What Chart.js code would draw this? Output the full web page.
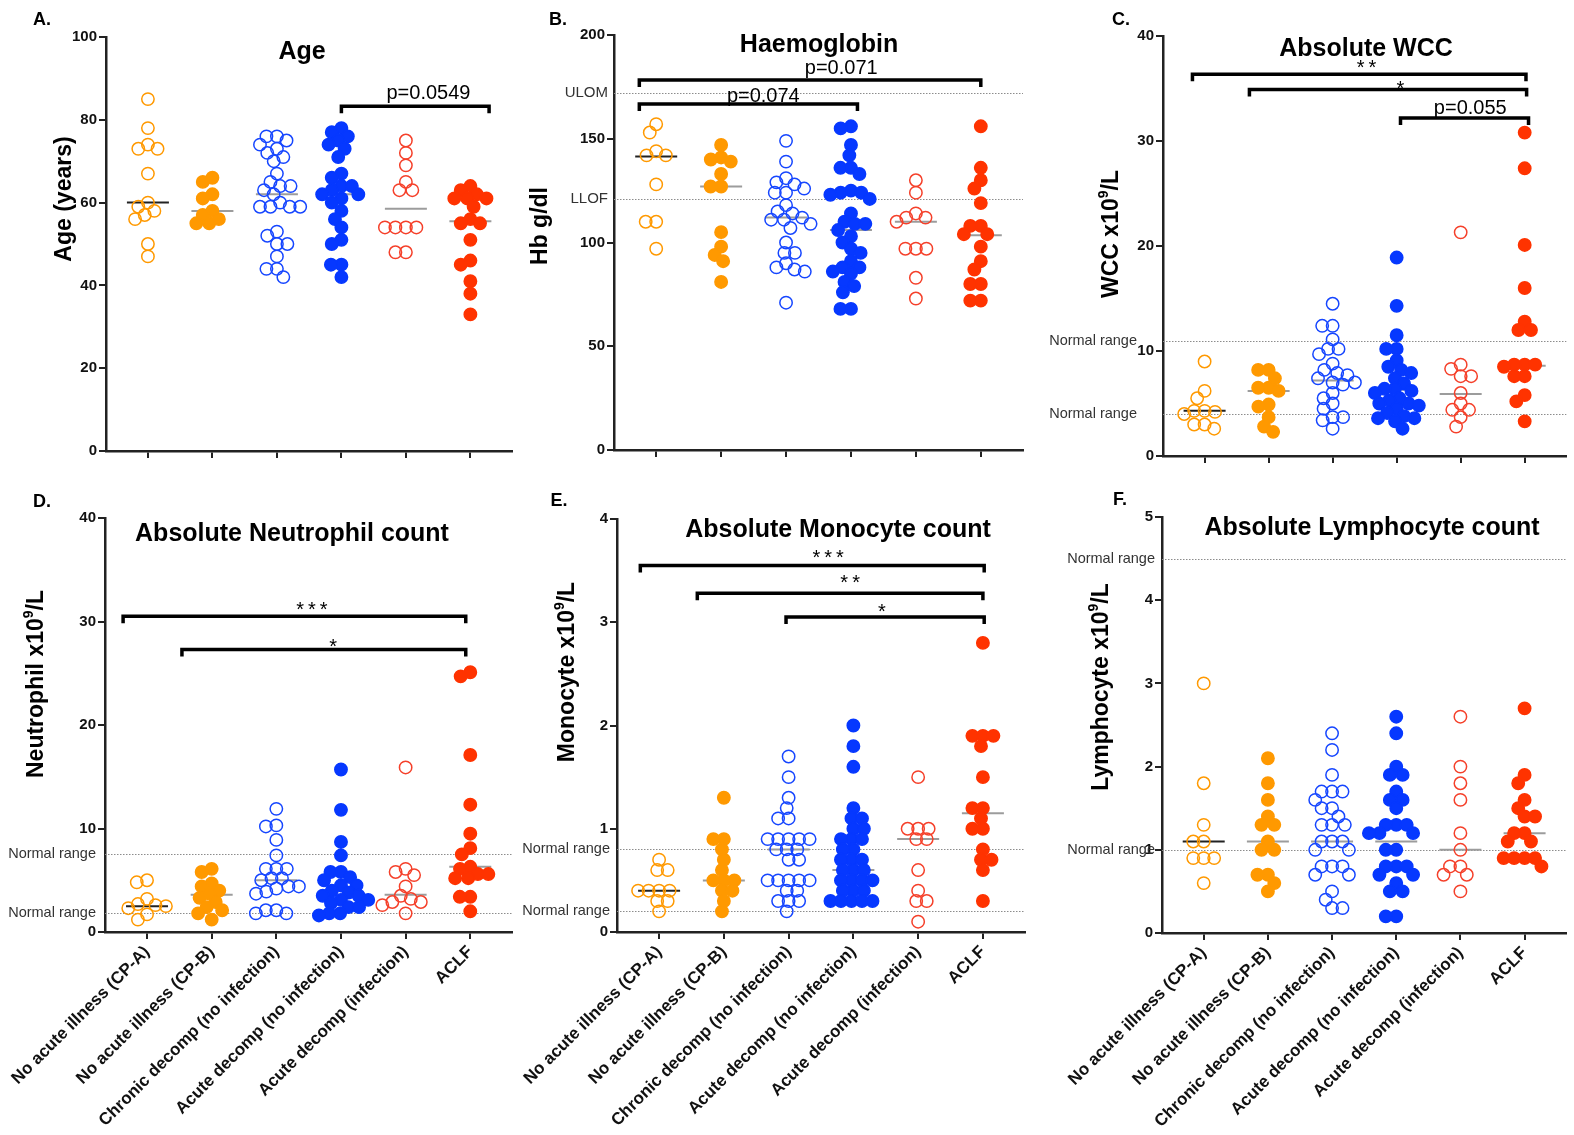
<!DOCTYPE html>
<html>
<head>
<meta charset="utf-8">
<script src="https://cdn.jsdelivr.net/npm/chart.js@4.4.1/dist/chart.umd.min.js"></script>
<style>
body { margin: 0; background: #fff; width: 1574px; height: 1135px; position: relative; overflow: hidden; font-family: "Liberation Sans", Arial, sans-serif; }
canvas { position: absolute; }
.txt { position: absolute; font-weight: bold; color: #000; white-space: nowrap; line-height: 1; transform: translate(-50%, -50%); }
.letter { font-size: 18px; }
.title { font-size: 25px; }
</style>
</head>
<body>
<script>
// groups, shared by all six panels
const categories = ['No acute illness (CP-A)', 'No acute illness (CP-B)', 'Chronic decomp (no infection)',
    'Acute decomp (no infection)', 'Acute decomp (infection)', 'ACLF'];

// values per group
const ageData = [
    [85, 78, 74, 73, 73, 67, 60, 59, 58, 57, 56, 50, 47],
    [66, 65, 62, 61, 58, 57, 56, 55, 55],
    [76, 76, 75, 74, 73, 72, 71, 70, 67, 65, 64, 64, 63, 62, 60, 59, 59, 59, 59, 53, 52, 50, 50, 47, 44, 44, 42],
    [78, 77, 76, 75, 74, 73, 71, 67, 66, 64, 64, 63, 62, 62, 61, 60, 58, 56, 54, 51, 50, 45, 45, 42],
    [75, 72, 69, 65, 63, 63, 54, 54, 54, 54, 48, 48],
    [64, 63, 62, 61, 61, 61, 59, 56, 55, 55, 51, 46, 45, 41, 38, 33]
];
const ageMedians = [60, 58, 62, 62, 58.5, 55.5];

const hbData = [
    [157, 153, 144, 142, 142, 128, 110, 110, 97],
    [147, 141, 140, 139, 133, 127, 127, 105, 98, 94, 91, 81],
    [149, 139, 131, 129, 128, 126, 124, 124, 118, 115, 114, 112, 111, 111, 109, 107, 100, 95, 95, 90, 88, 87, 86, 71],
    [156, 155, 147, 142, 136, 136, 133, 125, 124, 124, 123, 121, 114, 110, 109, 109, 106, 103, 100, 97, 95, 91, 88, 88, 86, 85, 81, 79, 76, 68, 68],
    [130, 124, 114, 112, 112, 110, 97, 97, 97, 83, 73],
    [156, 136, 130, 126, 119, 108, 108, 104, 104, 98, 91, 87, 80, 80, 72, 72]
];
const hbMedians = [141.5, 127, 112, 106, 110, 103.5];
const hbRefs = [172, 121];
const hbRefLabels = ['ULOM', 'LLOF'];

const wccData = [
    [9.0, 6.2, 5.5, 4.3, 4.3, 4.2, 4.0, 3.0, 3.0, 2.6],
    [8.2, 8.2, 7.4, 6.5, 6.5, 6.2, 4.9, 4.7, 3.7, 2.8, 2.3],
    [14.5, 12.4, 12.4, 11.1, 10.2, 10.2, 9.7, 8.8, 8.2, 7.9, 7.7, 7.4, 7.0, 7.0, 6.8, 6.0, 5.5, 5.0, 4.5, 3.7, 3.7, 3.4, 2.6],
    [18.9, 14.3, 11.5, 10.2, 10.2, 9.1, 8.5, 8.2, 7.9, 7.4, 6.9, 6.4, 6.4, 6.2, 6.0, 5.5, 5.3, 5.0, 5.0, 4.8, 4.5, 4.1, 3.8, 3.6, 3.6, 3.3, 2.6],
    [21.3, 8.7, 8.3, 7.6, 7.6, 6.0, 5.0, 4.4, 4.4, 3.7, 2.8],
    [30.8, 27.4, 20.1, 16.0, 12.8, 12.0, 12.0, 8.7, 8.7, 8.7, 8.5, 7.6, 7.6, 5.8, 5.2, 3.3]
];
const wccMedians = [4.3, 6.2, 7.2, 6.3, 5.9, 8.6];
const wccRefs = [11, 4];

const neutData = [
    [5.0, 4.8, 3.2, 2.7, 2.6, 2.5, 2.3, 1.7, 1.2],
    [6.1, 5.8, 4.7, 4.4, 4.0, 3.7, 3.3, 2.9, 2.4, 2.1, 1.8, 1.2],
    [11.9, 10.3, 10.2, 8.9, 7.4, 6.1, 6.1, 6.1, 5.2, 5.2, 5.0, 4.4, 4.4, 4.2, 3.9, 3.7, 2.1, 2.1, 1.8, 1.8],
    [15.7, 11.8, 8.7, 7.4, 5.8, 5.8, 5.3, 5.0, 4.5, 4.5, 4.0, 3.8, 3.5, 3.5, 3.1, 3.1, 2.8, 2.4, 2.4, 1.8, 1.8, 1.6],
    [15.9, 6.1, 5.8, 5.5, 4.4, 3.5, 3.2, 2.9, 2.9, 2.6, 1.8],
    [25.1, 24.7, 17.1, 12.3, 9.5, 8.1, 7.5, 6.3, 6.1, 5.6, 5.6, 5.2, 5.2, 3.4, 3.4, 2.0]
];
const neutMedians = [2.5, 3.6, 5.0, 4.0, 3.6, 6.3];
const neutRefs = [7.5, 1.8];

const monoData = [
    [0.7, 0.6, 0.6, 0.4, 0.4, 0.4, 0.4, 0.3, 0.3, 0.2],
    [1.3, 0.9, 0.9, 0.8, 0.7, 0.6, 0.5, 0.5, 0.5, 0.4, 0.4, 0.3, 0.2],
    [1.7, 1.5, 1.3, 1.2, 1.1, 1.1, 0.9, 0.9, 0.9, 0.9, 0.9, 0.8, 0.8, 0.8, 0.7, 0.7, 0.5, 0.5, 0.5, 0.5, 0.5, 0.4, 0.4, 0.3, 0.3, 0.3, 0.2],
    [2.0, 1.8, 1.6, 1.2, 1.1, 1.1, 1.0, 1.0, 0.9, 0.9, 0.9, 0.8, 0.8, 0.7, 0.7, 0.7, 0.6, 0.6, 0.6, 0.5, 0.5, 0.5, 0.5, 0.4, 0.4, 0.4, 0.3, 0.3, 0.3, 0.3, 0.3],
    [1.5, 1.0, 1.0, 1.0, 0.9, 0.9, 0.6, 0.4, 0.3, 0.3, 0.1],
    [2.8, 1.9, 1.9, 1.9, 1.8, 1.5, 1.2, 1.2, 1.1, 1.0, 1.0, 0.8, 0.7, 0.7, 0.6, 0.3]
];
const monoMedians = [0.4, 0.5, 0.8, 0.6, 0.9, 1.15];
const monoRefs = [0.8, 0.2];

const lymphData = [
    [3.0, 1.8, 1.3, 1.1, 1.1, 0.9, 0.9, 0.9, 0.6],
    [2.1, 1.8, 1.6, 1.4, 1.3, 1.3, 1.1, 1.0, 1.0, 0.7, 0.7, 0.6, 0.5],
    [2.4, 2.2, 1.9, 1.7, 1.7, 1.7, 1.6, 1.5, 1.5, 1.4, 1.3, 1.3, 1.3, 1.1, 1.1, 1.1, 1.0, 1.0, 0.8, 0.8, 0.8, 0.7, 0.7, 0.5, 0.4, 0.3, 0.3],
    [2.6, 2.4, 2.0, 1.9, 1.9, 1.7, 1.6, 1.6, 1.5, 1.3, 1.3, 1.3, 1.2, 1.2, 1.2, 1.0, 1.0, 0.8, 0.8, 0.8, 0.7, 0.7, 0.6, 0.5, 0.5, 0.2, 0.2],
    [2.6, 2.0, 1.8, 1.6, 1.2, 1.0, 0.8, 0.8, 0.7, 0.7, 0.5],
    [2.7, 1.9, 1.8, 1.6, 1.5, 1.4, 1.4, 1.2, 1.2, 1.1, 1.1, 0.9, 0.9, 0.9, 0.9, 0.8]
];
const lymphMedians = [1.1, 1.1, 1.1, 1.1, 1.0, 1.2];
const lymphRefs = [4.5, 1.0];

// significance brackets: [from group, to group, y value, label]
const ageBrackets = [[4.0, 6.29, 83.3, 'p=0.0549']];
const hbBrackets = [[0.74, 6.0, 178.3, 'p=0.071'], [0.74, 4.1, 166.7, 'p=0.074']];
const wccBrackets = [[0.81, 6.02, 36.35, '**'], [1.7, 6.03, 34.9, '*'], [4.06, 6.06, 32.2, 'p=0.055']];
const neutBrackets = [[0.63, 5.93, 30.5, '***'], [1.54, 5.93, 27.3, '*']];
const monoBrackets = [[0.71, 6.02, 3.55, '***'], [1.59, 6.0, 3.28, '**'], [2.96, 6.02, 3.05, '*']];

// where each bracket label sits: [x in group units, raise above the bar in px]
const ageLabelPos = [[5.35, 7]];
const hbLabelPos = [[3.85, 6], [2.65, 2.5]];
const wccLabelPos = [[3.53, 0], [4.06, -5], [5.15, 4]];
const neutLabelPos = [[3.55, 0], [3.88, -4]];
const monoLabelPos = [[3.61, 1], [3.95, 4], [4.44, -1]];

const groupColors = ['#ff9900', '#ff9900', '#1646ff', '#0638ff', '#f5402a', '#ff3300'];
const groupFilled = [false, true, false, true, false, true];

const FONT = '"Liberation Sans", Arial, sans-serif';
Chart.defaults.font.family = FONT;

// simple beeswarm: spread equal-ish values sideways so circles don't pile up
function swarm(vals, pxY, pxX, d) {
    const order = vals.map((v, i) => i).sort((a, b) => vals[b] - vals[a]);
    const placed = [];
    const out = new Array(vals.length);
    order.forEach(i => {
        const y = vals[i] * pxY;
        const blocked = [];
        placed.forEach(p => {
            const dy = Math.abs(p.y - y);
            if (dy < d) {
                const w = Math.sqrt(d * d - dy * dy);
                blocked.push([p.x - w, p.x + w]);
            }
        });
        const cands = [0];
        blocked.forEach(b => cands.push(b[0], b[1]));
        cands.sort((a, b) => Math.abs(a) - Math.abs(b));
        let x = 0;
        for (const c of cands) {
            if (blocked.every(b => c <= b[0] + 1e-6 || c >= b[1] - 1e-6)) { x = c; break; }
        }
        placed.push({ x, y });
        out[i] = x / pxX;
    });
    return out;
}

function drawYTitle(ctx, parts, cx, cy) {
    ctx.save();
    ctx.translate(cx, cy);
    ctx.rotate(-Math.PI / 2);
    ctx.fillStyle = '#000';
    ctx.textBaseline = 'middle';
    ctx.textAlign = 'left';
    const big = 'bold 23px ' + FONT, small = 'bold 14px ' + FONT;
    let w = 0;
    parts.forEach(p => { ctx.font = p[1] ? small : big; w += ctx.measureText(p[0]).width; });
    let x = -w / 2;
    parts.forEach(p => {
        ctx.font = p[1] ? small : big;
        ctx.fillText(p[0], x, p[1] ? -8 : 0);
        x += ctx.measureText(p[0]).width;
    });
    ctx.restore();
}

const decor = {
    id: 'decor',
    beforeDatasetsDraw(chart, args, o) {
        const { ctx, chartArea: a, scales: { x, y } } = chart;
        ctx.save();
        ctx.strokeStyle = '#8c8c8c';
        ctx.lineWidth = 1;
        ctx.setLineDash([1.5, 1.5]);
        o.refs.forEach(v => {
            const py = Math.round(y.getPixelForValue(v)) + 0.5;
            ctx.beginPath(); ctx.moveTo(a.left, py); ctx.lineTo(a.right, py); ctx.stroke();
        });
        ctx.setLineDash([]);
        ctx.lineWidth = 2;
        o.medians.forEach((m, i) => {
            const cx = x.getPixelForValue(i + 1), py = y.getPixelForValue(m);
            ctx.strokeStyle = i === 0 ? '#222' : '#9c9c9c';
            ctx.beginPath(); ctx.moveTo(cx - 21, py); ctx.lineTo(cx + 21, py); ctx.stroke();
        });
        ctx.restore();
    },
    afterDraw(chart, args, o) {
        const { ctx, chartArea: a, scales: { x, y } } = chart;
        ctx.save();
        // reference line labels
        ctx.fillStyle = '#333';
        ctx.textAlign = 'right';
        ctx.textBaseline = 'middle';
        ctx.font = o.refFont + ' ' + FONT;
        o.refs.forEach((v, i) => {
            ctx.fillText(o.refLabels[i], a.left - o.refGap, y.getPixelForValue(v));
        });
        // brackets
        ctx.strokeStyle = '#000';
        ctx.fillStyle = '#000';
        ctx.lineWidth = 3.5;
        ctx.lineJoin = 'miter';
        ctx.textAlign = 'center';
        ctx.textBaseline = 'alphabetic';
        ctx.font = '20px ' + FONT;
        o.brackets.forEach((b, i) => {
            const x1 = x.getPixelForValue(b[0]), x2 = x.getPixelForValue(b[1]), py = y.getPixelForValue(b[2]);
            ctx.beginPath();
            ctx.moveTo(x1, py + 7); ctx.lineTo(x1, py); ctx.lineTo(x2, py); ctx.lineTo(x2, py + 7);
            ctx.stroke();
            const lp = o.labelPos[i];
            const stars = b[3].startsWith('*');
            ctx.letterSpacing = stars ? '4px' : '0px';
            ctx.fillText(b[3], x.getPixelForValue(lp[0]) + (stars ? 2 : 0), py - lp[1]);
        });
        ctx.letterSpacing = '0px';
        ctx.restore();
        drawYTitle(ctx, o.yTitle, o.yTitlePos[0], o.yTitlePos[1]);
    }
};

const panels = [
    { letter: 'A.', letterPos: [42, 19], title: 'Age', titlePos: [302, 50],
      box: [0, 0, 520, 470], area: [106, 37, 513, 451], yMax: 100, step: 20,
      data: ageData, medians: ageMedians, refs: [], refLabels: [], refGap: 8, refFont: '14.5px',
      brackets: ageBrackets, labelPos: ageLabelPos, showX: false,
      yTitle: [['Age (years)']], yTitlePos: [65, 199] },
    { letter: 'B.', letterPos: [558, 19], title: 'Haemoglobin', titlePos: [819, 43],
      box: [510, 0, 530, 470], area: [614, 35, 1023, 450], yMax: 200, step: 50,
      data: hbData, medians: hbMedians, refs: hbRefs, refLabels: hbRefLabels, refGap: 6, refFont: '15px',
      brackets: hbBrackets, labelPos: hbLabelPos, showX: false,
      yTitle: [['Hb g/dl']], yTitlePos: [541, 226] },
    { letter: 'C.', letterPos: [1121, 19], title: 'Absolute WCC', titlePos: [1366, 47],
      box: [1030, 0, 544, 470], area: [1163, 36, 1568, 456], yMax: 40, step: 10,
      data: wccData, medians: wccMedians, refs: wccRefs, refLabels: ['Normal range', 'Normal range'], refGap: 26, refFont: '14.5px',
      brackets: wccBrackets, labelPos: wccLabelPos, showX: false,
      yTitle: [['WCC x10'], ['9', true], ['/L']], yTitlePos: [1112, 234] },
    { letter: 'D.', letterPos: [42, 501], title: 'Absolute Neutrophil count', titlePos: [292, 532],
      box: [0, 480, 520, 655], area: [105, 518, 513, 932], yMax: 40, step: 10,
      data: neutData, medians: neutMedians, refs: neutRefs, refLabels: ['Normal range', 'Normal range'], refGap: 9, refFont: '14.5px',
      brackets: neutBrackets, labelPos: neutLabelPos, showX: true,
      yTitle: [['Neutrophil x10'], ['9', true], ['/L']], yTitlePos: [37, 684] },
    { letter: 'E.', letterPos: [559, 500], title: 'Absolute Monocyte count', titlePos: [838, 528],
      box: [505, 480, 535, 655], area: [617, 519, 1025, 932], yMax: 4, step: 1,
      data: monoData, medians: monoMedians, refs: monoRefs, refLabels: ['Normal range', 'Normal range'], refGap: 7, refFont: '14.5px',
      brackets: monoBrackets, labelPos: monoLabelPos, showX: true,
      yTitle: [['Monocyte x10'], ['9', true], ['/L']], yTitlePos: [568, 672] },
    { letter: 'F.', letterPos: [1120, 499], title: 'Absolute Lymphocyte count', titlePos: [1372, 526],
      box: [1030, 480, 544, 655], area: [1162, 517, 1568, 933], yMax: 5, step: 1,
      data: lymphData, medians: lymphMedians, refs: lymphRefs, refLabels: ['Normal range', 'Normal range'], refGap: 7, refFont: '14.5px',
      brackets: [], labelPos: [], showX: true,
      yTitle: [['Lymphocyte x10'], ['9', true], ['/L']], yTitlePos: [1102, 687] }
];

panels.forEach(p => {
    const [bl, bt, bw, bh] = p.box;
    const [al, at, ar, ab] = p.area;

    const canvas = document.createElement('canvas');
    canvas.width = bw;
    canvas.height = bh;
    canvas.style.left = bl + 'px';
    canvas.style.top = bt + 'px';
    document.body.appendChild(canvas);

    const letter = document.createElement('div');
    letter.className = 'txt letter';
    letter.textContent = p.letter;
    letter.style.left = p.letterPos[0] + 'px';
    letter.style.top = p.letterPos[1] + 'px';
    document.body.appendChild(letter);

    const title = document.createElement('div');
    title.className = 'txt title';
    title.textContent = p.title;
    title.style.left = p.titlePos[0] + 'px';
    title.style.top = p.titlePos[1] + 'px';
    document.body.appendChild(title);

    const pxY = (ab - at) / p.yMax;
    const pxX = (ar - al) / 6.3;

    const datasets = p.data.map((vals, g) => {
        const offs = swarm(vals, pxY, pxX, 10.5);
        return {
            data: vals.map((v, k) => ({ x: g + 1 + offs[k], y: v })),
            pointRadius: 6.2,
            pointHoverRadius: 6.2,
            pointBorderWidth: 1.5,
            pointBorderColor: groupColors[g],
            pointBackgroundColor: groupFilled[g] ? groupColors[g] : 'rgba(0,0,0,0)',
            showLine: false
        };
    });

    const axisGrid = { display: true, drawOnChartArea: false, drawTicks: true, tickLength: 7, tickColor: '#222', tickWidth: 2, color: '#222', lineWidth: 2 };
    const axisBorder = { display: true, color: '#222', width: 2.5 };

    new Chart(canvas, {
        type: 'scatter',
        data: { datasets },
        plugins: [decor],
        options: {
            responsive: false,
            animation: false,
            devicePixelRatio: 1,
            layout: { padding: { left: 0, top: at - bt, right: (bl + bw) - ar, bottom: 0 } },
            plugins: {
                legend: { display: false },
                tooltip: { enabled: false },
                decor: {
                    refs: p.refs, refLabels: p.refLabels, refGap: p.refGap, refFont: p.refFont,
                    medians: p.medians, brackets: p.brackets, labelPos: p.labelPos,
                    yTitle: p.yTitle, yTitlePos: [p.yTitlePos[0] - bl, p.yTitlePos[1] - bt]
                }
            },
            scales: {
                x: {
                    type: 'linear', min: 0.35, max: 6.65,
                    afterBuildTicks: s => { s.ticks = categories.map((c, i) => ({ value: i + 1 })); },
                    afterFit: s => { s.height = (bt + bh) - ab; s.paddingLeft = 0; s.paddingRight = 0; },
                    ticks: {
                        display: p.showX, autoSkip: false, minRotation: 45, maxRotation: 45, padding: 3,
                        color: '#111', font: { size: 17, weight: 'bold' },
                        callback: v => categories[v - 1]
                    },
                    grid: axisGrid,
                    border: axisBorder
                },
                y: {
                    min: 0, max: p.yMax,
                    afterFit: s => { s.width = al - bl; s.paddingTop = 0; s.paddingBottom = 0; },
                    ticks: { stepSize: p.step, padding: 2, color: '#111', font: { size: 15, weight: 'bold' } },
                    grid: axisGrid,
                    border: axisBorder
                }
            }
        }
    });
});
</script>
</body>
</html>
